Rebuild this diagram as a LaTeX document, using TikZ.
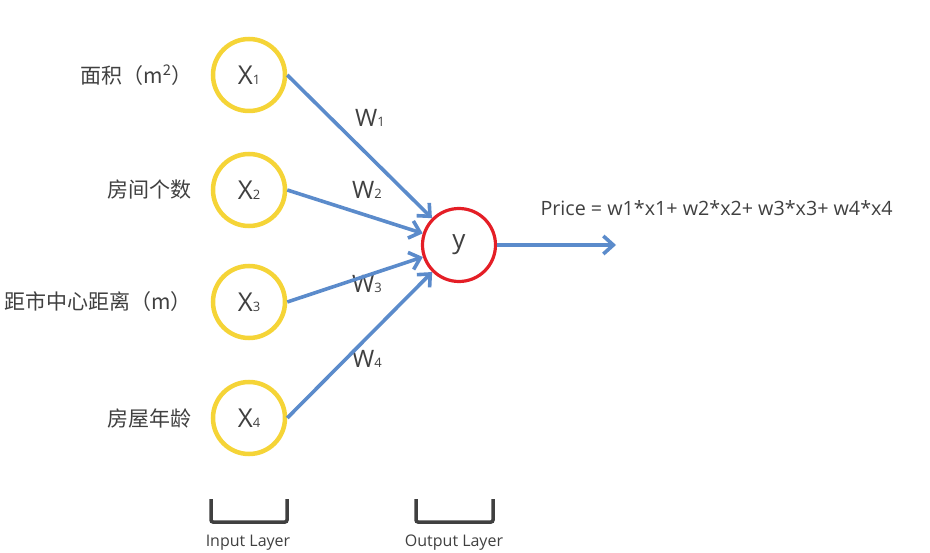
\documentclass[tikz,border=0pt]{standalone}
\usepackage{fontspec}
\setmainfont{Open Sans}
\newfontfamily\cjk{Noto Sans CJK SC}
\usetikzlibrary{arrows.meta}
\definecolor{nodeyellow}{HTML}{F5D437}
\definecolor{nodered}{HTML}{E41E26}
\definecolor{edgeblue}{HTML}{5B8BCB}
\definecolor{textgray}{HTML}{404040}
\newcommand{\subdigit}[1]{{\fontsize{13}{13}\selectfont #1}}
\begin{document}
\begin{tikzpicture}[x=1pt, y=-1pt, every node/.style={text=textgray},
innode/.style={circle, draw=nodeyellow, line width=4.5pt, minimum size=72pt, inner sep=0pt, font=\fontsize{26}{26}\selectfont},
outnode/.style={circle, draw=nodered, line width=3.2pt, minimum size=73pt, inner sep=0pt, font=\fontsize{26}{26}\selectfont},
feat/.style={anchor=east, font=\cjk\fontsize{21}{21}\selectfont},
wlabel/.style={font=\fontsize{24}{24}\selectfont},
arr/.style={-{Straight Barb[length=10pt,width=18pt]}, line width=3.6pt, draw=edgeblue},
layerbrk/.style={line width=3.5pt, draw=black!75, rounded corners=2pt},
layerlbl/.style={font=\fontsize{16}{16}\selectfont}]
\useasboundingbox (0,0) rectangle (930,553);
% input and output neurons
\node[innode] (x1) at (249,75) {X\subdigit{1}};
\node[innode] (x2) at (249,190) {X\subdigit{2}};
\node[innode] (x3) at (249,302) {X\subdigit{3}};
\node[innode] (x4) at (249,418) {X\subdigit{4}};
\node[outnode] (y) at (459,245) {y};
% features
\node[feat] (f1) at (196,75) {面积（m\textsuperscript{2}）};
\node[feat] (f2) at (195,190) {房间个数};
\node[feat] (f3) at (195,302) {距市中心距离（m）};
\node[feat] (f4) at (195,418) {房屋年龄};
% weights
\node[wlabel] (w1) at (370,118) {W\subdigit{1}};
\node[wlabel] (w2) at (367,190) {W\subdigit{2}};
\node[wlabel] (w3) at (367,284) {W\subdigit{3}};
\node[wlabel] (w4) at (367,359) {W\subdigit{4}};
\foreach \i in {1,...,4}
  \draw[arr] (x\i.east) -- (y);
\coordinate (out) at (616,245);
\draw[arr] (y) -- (out);
\node[anchor=west, font=\fontsize{19.7}{19.7}\selectfont] (price) at (537,208) {Price = w1*x1+ w2*x2+ w3*x3+ w4*x4};
% layer brackets
\draw[layerbrk] (211,499) -- (211,522) -- (287,522) -- (287,499);
\draw[layerbrk] (416,499) -- (416,522) -- (493,522) -- (493,499);
\node[layerlbl] (inlbl) at (248,543) {Input Layer};
\node[layerlbl] (outlbl) at (454,543) {Output Layer};
\end{tikzpicture}
\end{document}
